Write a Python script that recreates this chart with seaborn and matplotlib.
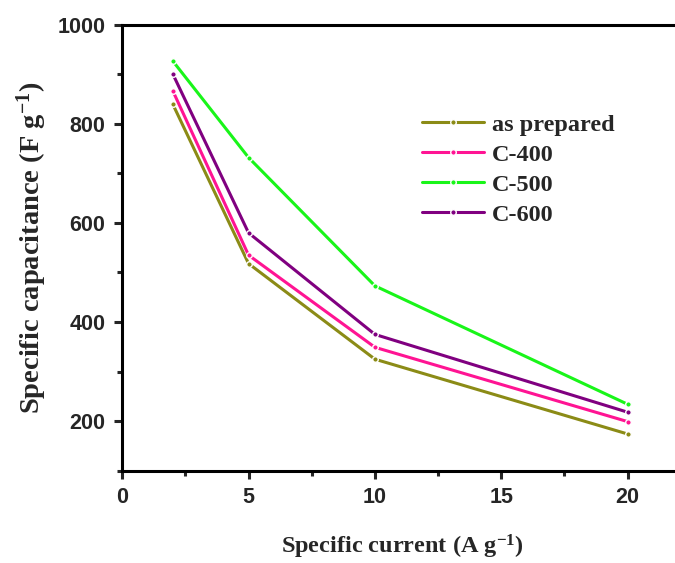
import seaborn as sns
import matplotlib.pyplot as plt
import pandas as pd
from matplotlib.ticker import MultipleLocator

# data
current = [2, 5, 10, 20]
as_prepared = [840, 518, 325, 174]
c400 = [867, 535, 349, 199]
c500 = [927, 732, 473, 234]
c600 = [901, 580, 375, 218]
series_names = ["as prepared", "C-400", "C-500", "C-600"]
colors = {"as prepared": "#8b8b16", "C-400": "#ff1493",
          "C-500": "#19f519", "C-600": "#800080"}

df = pd.DataFrame({
    "Current": current * 4,
    "Capacitance": as_prepared + c400 + c500 + c600,
    "Sample": [n for n in series_names for _ in current],
})

sns.set_theme(style="ticks")
plt.rcParams['font.family'] = ['Liberation Sans', 'DejaVu Sans']
plt.rcParams['font.weight'] = 'bold'
plt.rcParams['mathtext.fontset'] = 'custom'
plt.rcParams['mathtext.rm'] = 'Liberation Serif:bold'
plt.rcParams['mathtext.it'] = 'Liberation Serif:bold'
plt.rcParams['mathtext.bf'] = 'Liberation Serif:bold'

fig = plt.figure(figsize=(6.75, 5.63), dpi=100)
ax = fig.add_axes([0.181, 0.164, 0.85, 0.792])

sns.lineplot(data=df, x="Current", y="Capacitance", hue="Sample",
             hue_order=series_names, palette=colors, marker="o",
             markersize=4, markeredgewidth=1.0, linewidth=2.2, ax=ax)

ax.set_xlim(0, 22.7)
ax.set_ylim(100, 1000)
ax.xaxis.set_major_locator(MultipleLocator(5))
ax.xaxis.set_minor_locator(MultipleLocator(2.5))
ax.yaxis.set_major_locator(MultipleLocator(200))
ax.yaxis.set_minor_locator(MultipleLocator(100))
ax.set_yticks([200, 400, 600, 800, 1000])

for s in ax.spines.values():
    s.set_linewidth(2.2)
    s.set_color("black")
ax.tick_params(which="major", length=6, width=2.2, direction="out",
               labelsize=15.5, pad=6)
ax.tick_params(which="minor", length=3.5, width=2.2, direction="out")

ax.set_xlabel(r"Specific current (A g$^{-1}$)", family="Liberation Serif",
              fontsize=17.5, fontweight="bold")
ax.xaxis.set_label_coords(0.488, -0.14)
ax.set_ylabel(r"Specific capacitance (F g$^{-1}$)", family="Liberation Serif",
              fontsize=20.5, fontweight="bold", labelpad=6)

leg = ax.legend(loc="upper left", bbox_to_anchor=(0.485, 0.85), frameon=False,
                handlelength=2.55, handletextpad=0.3, labelspacing=0.33,
                prop={"family": "Liberation Serif", "weight": "bold", "size": 17.5})

fig.savefig("out.png", dpi=100)
